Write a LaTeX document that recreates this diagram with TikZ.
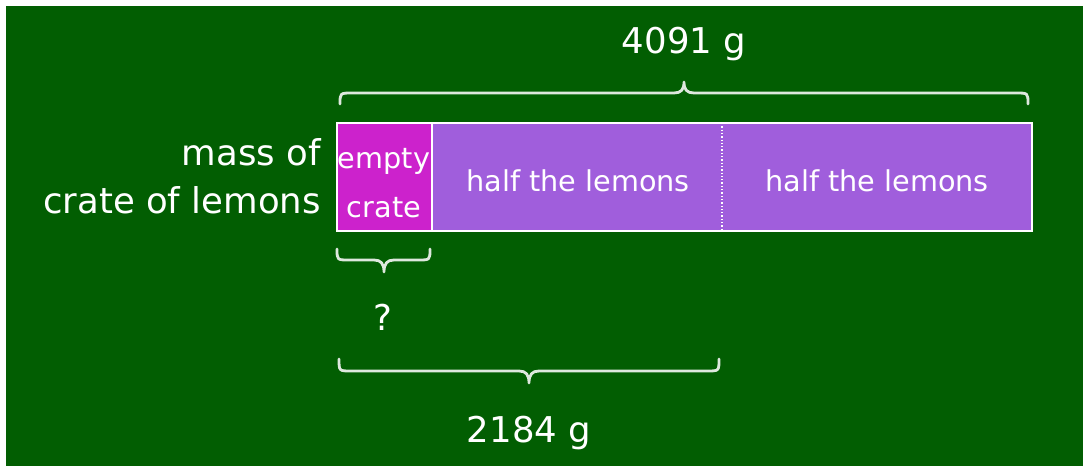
\documentclass[tikz,border=0pt]{standalone}
\usepackage{fontspec}
\setmainfont{DejaVu Sans}
\definecolor{bg}{RGB}{2,94,2}
\definecolor{cratecol}{RGB}{204,34,204}
\definecolor{lemoncol}{RGB}{160,94,220}
\definecolor{bracecol}{RGB}{222,232,222}
\newcommand\mybrace[6]{% x1 x2 xm yend yline ytip
  \draw[bracestyle] (#1,#4) .. controls (#1,#5) .. (#1+12,#5) -- (#3-10,#5)
    .. controls (#3-3,#5) and (#3,#5+0.3*#6-0.3*#5) .. (#3,#6)
    .. controls (#3,#5+0.3*#6-0.3*#5) and (#3+3,#5) .. (#3+10,#5)
    -- (#2-12,#5) .. controls (#2,#5) .. (#2,#4);}
\begin{document}
\begin{tikzpicture}[x=1pt,y=-1pt,
  bigtxt/.style={text=white,inner sep=0pt,font=\fontsize{35.5}{42}\selectfont},
  celltxt/.style={text=white,inner sep=0pt,font=\fontsize{28.7}{34}\selectfont},
  cellbox/.style={inner sep=0pt,outer sep=0pt,anchor=north west,minimum height=108pt},
  bracestyle/.style={draw=bracecol,line width=2.8pt,line cap=round,line join=round}]
\useasboundingbox (0,0) rectangle (1083,466);
\fill[white] (0,0) rectangle (1083,466);
\fill[bg] (6,6) rectangle (1083,466);
% bar
\node[cellbox,fill=cratecol,minimum width=95pt] (c) at (337,123) {};
\node[cellbox,fill=lemoncol,minimum width=290pt] (h1) at (432,123) {};
\node[cellbox,fill=lemoncol,minimum width=310pt] (h2) at (722,123) {};
\draw[white,line width=1.6pt] (c.north west) rectangle (h2.south east);
\draw[white,line width=1.6pt] (c.north east) -- (c.south east);
\draw[white,line width=1.3pt,dotted] (h1.north east) -- (h1.south east);
% cell texts
\node[celltxt,anchor=base] (t1) at (384,168) {empty};
\node[celltxt,anchor=base] (t2) at (384,217) {crate};
\node[celltxt,anchor=base] (t3) at (578,191) {half the lemons};
\node[celltxt,anchor=base] (t4) at (877,191) {half the lemons};
% left label
\node[bigtxt,anchor=base east] (l1) at (321,165) {mass of};
\node[bigtxt,anchor=base east] (l2) at (321,213) {crate of lemons};
% braces
\mybrace{340}{1028}{684}{104}{93}{82}
\mybrace{337}{430}{384}{249}{260}{272}
\mybrace{339}{719}{529}{359}{371}{383}
% brace labels
\node[bigtxt,anchor=base] (top) at (684,53) {4091 g};
\node[bigtxt,anchor=base] (q) at (383,330) {?};
\node[bigtxt,anchor=base] (bot) at (529,442) {2184 g};
\end{tikzpicture}
\end{document}
